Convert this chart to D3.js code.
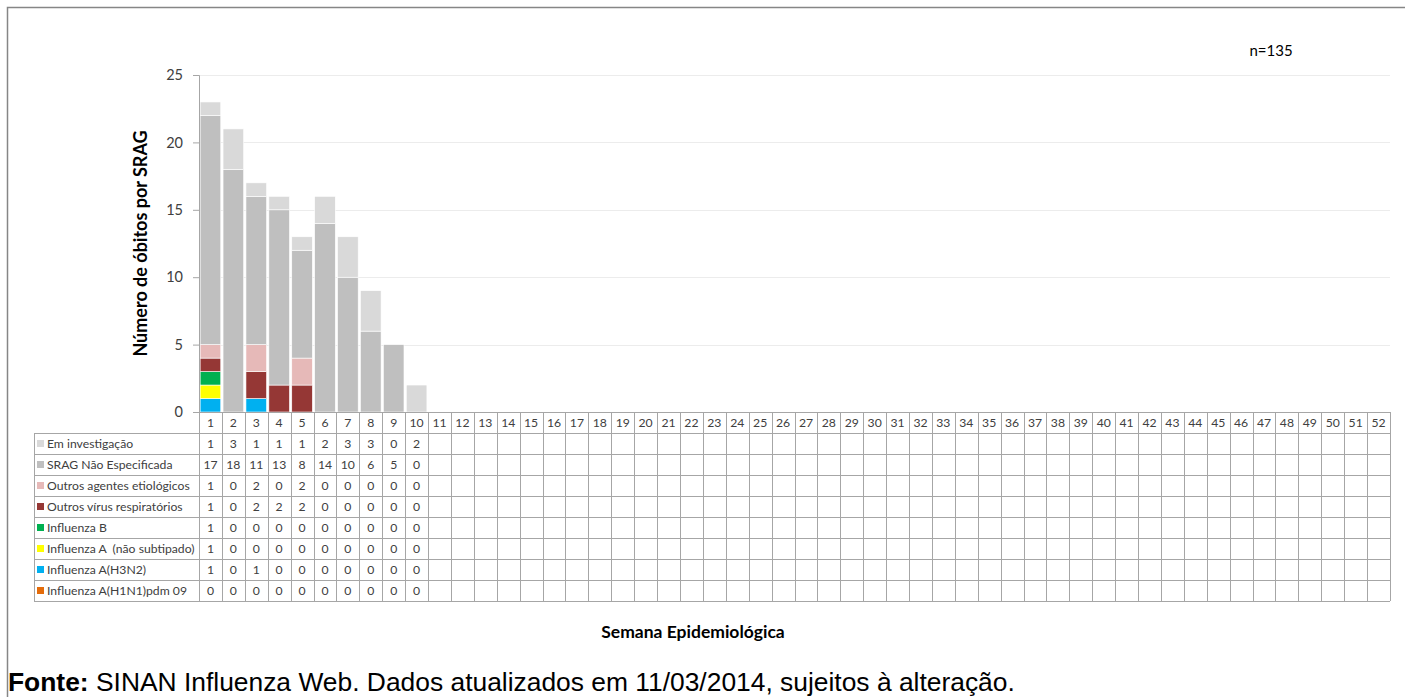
<!DOCTYPE html>
<html>
<head>
<meta charset="utf-8">
<script src="https://cdn.jsdelivr.net/npm/d3@7"></script>
<style>
  html, body { margin: 0; padding: 0; background: #fff; }
  svg { display: block; }
</style>
</head>
<body>
<svg id="chart" width="1405" height="697"></svg>
<script>
// ---------- DATA ----------
const weeks = ["1","2","3","4","5","6","7","8","9","10","11","12","13","14","15","16","17","18","19","20",
  "21","22","23","24","25","26","27","28","29","30","31","32","33","34","35","36","37","38","39","40",
  "41","42","43","44","45","46","47","48","49","50","51","52"];
const yTicks = [0, 5, 10, 15, 20, 25];

// series values for weeks 1..10 (weeks 11..52 have no data)
const h1n1          = [0, 0, 0, 0, 0, 0, 0, 0, 0, 0];
const h3n2          = [1, 0, 1, 0, 0, 0, 0, 0, 0, 0];
const influenzaANS  = [1, 0, 0, 0, 0, 0, 0, 0, 0, 0];
const influenzaB    = [1, 0, 0, 0, 0, 0, 0, 0, 0, 0];
const outrosVirus   = [1, 0, 2, 2, 2, 0, 0, 0, 0, 0];
const outrosAgentes = [1, 0, 2, 0, 2, 0, 0, 0, 0, 0];
const sragNE        = [17, 18, 11, 13, 8, 14, 10, 6, 5, 0];
const emInvest      = [1, 3, 1, 1, 1, 2, 3, 3, 0, 2];

const seriesNames = [
  "Influenza A(H1N1)pdm 09",
  "Influenza A(H3N2)",
  "Influenza A  (não subtipado)",
  "Influenza B",
  "Outros vírus respiratórios",
  "Outros agentes etiológicos",
  "SRAG Não Especificada",
  "Em investigação"
];
const seriesValues = [h1n1, h3n2, influenzaANS, influenzaB, outrosVirus, outrosAgentes, sragNE, emInvest];
const seriesColors = ["#e46c0a", "#00b0f0", "#ffff00", "#00b050", "#953735", "#e6b9b8", "#bfbfbf", "#d9d9d9"];

// ---------- LAYOUT ----------
const svg = d3.select("#chart");
const plotLeft = 199, plotRight = 1390, plotTop = 75, plotBottom = 412;
const rowH = 21, labelLeft = 34;
const font = "Lato, 'Open Sans', sans-serif";

// outer frame (only top/left visible)
svg.append("path")
  .attr("d", `M7.5,697 L7.5,7.5 L1405,7.5`)
  .attr("fill", "none").attr("stroke", "#868686").attr("stroke-width", 1.5);

const x = d3.scaleBand().domain(weeks).range([plotLeft, plotRight])
  .paddingInner(0.1).paddingOuter(0.05);
const y = d3.scaleLinear().domain([0, 25]).range([plotBottom, plotTop]);

// gridlines
svg.append("g").selectAll("line").data(yTicks.filter(d => d > 0)).join("line")
  .attr("x1", plotLeft).attr("x2", plotRight)
  .attr("y1", d => Math.round(y(d)) + 0.5).attr("y2", d => Math.round(y(d)) + 0.5)
  .attr("stroke", "#ececec").attr("stroke-width", 1);

// stacked data
const tableData = weeks.map((w, i) => {
  const o = { week: w };
  seriesNames.forEach((s, k) => { o[s] = i < seriesValues[k].length ? seriesValues[k][i] : 0; });
  return o;
});
const stacked = d3.stack().keys(seriesNames)(tableData);

svg.append("g").selectAll("g").data(stacked).join("g")
  .attr("fill", (d, i) => seriesColors[i])
  .selectAll("rect").data(d => d.filter(p => p[1] - p[0] > 0)).join("rect")
  .attr("x", d => x(d.data.week))
  .attr("width", x.bandwidth())
  .attr("y", d => y(d[1]))
  .attr("height", d => y(d[0]) - y(d[1]))
  .attr("stroke", "#ffffff").attr("stroke-width", 0.6);

// y axis
const yAxis = svg.append("g").attr("transform", `translate(${plotLeft},0)`)
  .call(d3.axisLeft(y).tickValues(yTicks).tickSize(6).tickPadding(10));
yAxis.select(".domain").attr("stroke", "#a6a6a6");
yAxis.selectAll(".tick line").attr("stroke", "#a6a6a6");
yAxis.selectAll(".tick text").attr("font-family", font).attr("font-size", 14.5).attr("fill", "#404040");

// y axis title
svg.append("text")
  .attr("transform", `translate(147,${(plotTop + plotBottom) / 2}) rotate(-90)`)
  .attr("text-anchor", "middle")
  .attr("font-family", font).attr("font-weight", "bold").attr("font-size", 18)
  .attr("fill", "#000").text("Número de óbitos por SRAG");

// n=135
svg.append("text").attr("x", 1271).attr("y", 56).attr("text-anchor", "middle")
  .attr("font-family", font).attr("font-size", 15).attr("fill", "#000").text("n=135");

// ---------- DATA TABLE ----------
const step = x.step();
const colLeft = w => x(w) - x.paddingOuter() * step;
const table = svg.append("g");
const gridColor = "#a6a6a6";
const nRows = seriesNames.length;
const tableBottom = plotBottom + rowH * (nRows + 1);
const tfs = 12.2;

// horizontal lines
const hLines = d3.range(nRows + 2).map(i => plotBottom + i * rowH);
table.selectAll("line.h").data(hLines).join("line").attr("class", "h")
  .attr("x1", (d, i) => i === 0 ? plotLeft - 6 : labelLeft).attr("x2", plotRight)
  .attr("y1", d => d + 0.5).attr("y2", d => d + 0.5)
  .attr("stroke", gridColor).attr("stroke-width", 1);
// vertical lines: column borders
const vCols = weeks.map(colLeft).concat([plotRight]);
table.selectAll("line.v").data(vCols).join("line").attr("class", "v")
  .attr("x1", d => Math.round(d) + 0.5).attr("x2", d => Math.round(d) + 0.5)
  .attr("y1", plotBottom).attr("y2", tableBottom)
  .attr("stroke", gridColor).attr("stroke-width", 1);
// label column left border
table.append("line")
  .attr("x1", labelLeft + 0.5).attr("x2", labelLeft + 0.5)
  .attr("y1", plotBottom + rowH).attr("y2", tableBottom)
  .attr("stroke", gridColor).attr("stroke-width", 1);

// header week numbers
table.selectAll("text.wk").data(weeks).join("text").attr("class", "wk")
  .attr("x", w => colLeft(w) + step / 2).attr("y", plotBottom + rowH / 2 + 4.5)
  .attr("text-anchor", "middle").attr("font-family", font).attr("font-size", tfs)
  .attr("fill", "#404040").text(w => w);

// rows (displayed top to bottom: reverse of stack order)
const rowOrder = d3.range(nRows).reverse();
rowOrder.forEach((k, r) => {
  const cy = plotBottom + rowH * (r + 1) + rowH / 2;
  table.append("rect").attr("x", 37).attr("y", cy - 3.5).attr("width", 7).attr("height", 7)
    .attr("fill", seriesColors[k]);
  table.append("text").attr("x", 47).attr("y", cy + 4.5)
    .attr("font-family", font).attr("font-size", tfs).attr("fill", "#404040")
    .attr("xml:space", "preserve").style("white-space", "pre")
    .text(seriesNames[k]);
  table.append("g").selectAll("text").data(seriesValues[k]).join("text")
    .attr("x", (v, i) => colLeft(weeks[i]) + step / 2).attr("y", cy + 4.5)
    .attr("text-anchor", "middle").attr("font-family", font).attr("font-size", tfs)
    .attr("fill", "#404040").text(v => v);
});

// x axis title
svg.append("text").attr("x", 693).attr("y", 638).attr("text-anchor", "middle")
  .attr("font-family", font).attr("font-weight", "bold").attr("font-size", 17.5)
  .attr("fill", "#000").text("Semana Epidemiológica");

// source footnote
const foot = svg.append("text").attr("x", 8).attr("y", 691)
  .attr("font-family", "'Liberation Sans', Arial, sans-serif").attr("font-size", 26.4).attr("fill", "#000");
foot.append("tspan").attr("font-weight", "bold").text("Fonte:");
foot.append("tspan").text(" SINAN Influenza Web. Dados atualizados em 11/03/2014, sujeitos à alteração.");
</script>
</body>
</html>
